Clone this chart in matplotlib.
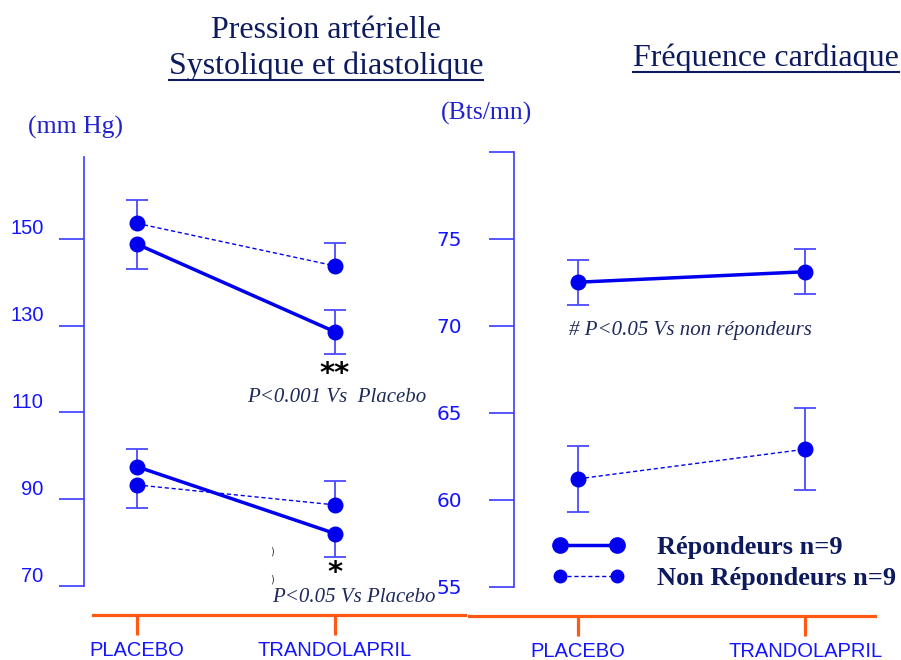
import matplotlib
matplotlib.use("Agg")
import matplotlib.pyplot as plt
import matplotlib.transforms as mtrans
from matplotlib.lines import Line2D
import numpy as np

# ---- data ----
groups = ["PLACEBO", "TRANDOLAPRIL"]

# pression arterielle (mm Hg)
rep_sys = [148.8, 128.6]
rep_sys_lo = [5.7, 5.2]
rep_sys_hi = [0.0, 5.0]
non_sys = [153.6, 143.8]
non_sys_lo = [0.0, 0.0]
non_sys_hi = [5.3, 5.2]

rep_dia = [97.5, 82.1]
rep_dia_lo = [0.0, 5.5]
rep_dia_hi = [4.0, 0.0]
non_dia = [93.3, 88.7]
non_dia_lo = [5.4, 0.0]
non_dia_hi = [0.0, 5.6]

# frequence cardiaque (Bts/mn)
rep_hr = [72.5, 73.1]
rep_hr_err = [1.3, 1.3]
non_hr = [61.2, 62.9]
non_hr_err = [1.9, 2.35]

bp_ticks = [70, 90, 110, 130, 150]
hr_ticks = [55, 60, 65, 70, 75, 80]
hr_ticklabels = ["55", "60", "65", "70", "75", ""]

W, H = 901, 660
NAVY = "#0d1b5e"
BLUE = "#0000ee"
AXBLUE = "#3a3aff"
ERRBLUE = "#4a4aff"
ORANGE = "#ff5a14"
LBLUE = "#1414ff"
SERIF = "Liberation Serif"
SANS = "Liberation Sans"

fig = plt.figure(figsize=(W / 100, H / 100), dpi=100)


def px_axes(l, t, r, b):
    return fig.add_axes([l / W, 1 - b / H, (r - l) / W, (b - t) / H])


def fx(x):
    return x / W


def fy(y):
    return 1 - y / H


def errbars(ax, y, lo, hi):
    x = np.arange(len(y))
    y = np.array(y)
    lo = np.array(lo)
    hi = np.array(hi)
    ax.vlines(x, y - lo, y + hi, color=ERRBLUE, lw=1.3, zorder=2)
    m = hi > 0
    ax.plot(x[m], (y + hi)[m], ls="none", marker="_", ms=16, mew=1.3, color=ERRBLUE, zorder=2)
    m = lo > 0
    ax.plot(x[m], (y - lo)[m], ls="none", marker="_", ms=16, mew=1.3, color=ERRBLUE, zorder=2)


def series(ax, y, solid):
    x = np.arange(len(y))
    if solid:
        ax.plot(x, y, color=BLUE, lw=2.5, marker="o", ms=10.5, zorder=3)
    else:
        ax.plot(x, y, color=BLUE, lw=1.0, ls=(0, (3, 2)), marker="o", ms=10.5, zorder=3)


def style_axes(ax, ticks, ticklabels, pad, up):
    for s in ["top", "right"]:
        ax.spines[s].set_visible(False)
    ax.spines["left"].set_color(AXBLUE)
    ax.spines["left"].set_linewidth(1.2)
    ax.spines["bottom"].set_position(("outward", 21))
    ax.spines["bottom"].set_color(ORANGE)
    ax.spines["bottom"].set_linewidth(2.3)
    ax.set_xticks([0, 1])
    ax.set_xticklabels(groups)
    ax.tick_params(axis="x", length=14.5, width=2.3, color=ORANGE, labelcolor=LBLUE,
                   labelsize=14.5, pad=4)
    ax.set_yticks(ticks)
    ax.set_yticklabels(ticklabels)
    ax.tick_params(axis="y", length=18, width=1.2, color=AXBLUE, labelcolor=LBLUE,
                   labelsize=14.5, pad=pad)
    for lab in ax.get_xticklabels() + ax.get_yticklabels():
        lab.set_family(SANS)
    off = mtrans.ScaledTranslation(0, up / 100, fig.dpi_scale_trans)
    for lab in ax.get_yticklabels():
        lab.set_transform(lab.get_transform() + off)
    ax.patch.set_visible(False)


# ---- left panel: blood pressure ----
ax1 = px_axes(84, 157, 465, 586)
ax1.set_xlim(-0.268, 1.657)
ax1.set_ylim(70, 168.9)
errbars(ax1, rep_sys, rep_sys_lo, rep_sys_hi)
errbars(ax1, non_sys, non_sys_lo, non_sys_hi)
errbars(ax1, rep_dia, rep_dia_lo, rep_dia_hi)
errbars(ax1, non_dia, non_dia_lo, non_dia_hi)
series(ax1, rep_sys, True)
series(ax1, non_sys, False)
series(ax1, rep_dia, True)
series(ax1, non_dia, False)
style_axes(ax1, bp_ticks, [str(t) for t in bp_ticks], 11, 12)
ax1.spines["bottom"].set_bounds(-0.222, 1.657)

ax1.annotate("**", xy=(1, rep_sys[1] - rep_sys_lo[1]), xytext=(0, -4), textcoords="offset points",
             ha="center", va="top", fontsize=21, fontweight="bold", color="black")
ax1.annotate("*", xy=(1, rep_dia[1] - rep_dia_lo[1]), xytext=(0, -1), textcoords="offset points",
             ha="center", va="top", fontsize=21, fontweight="bold", color="black")

# ---- right panel: heart rate ----
ax2 = px_axes(469, 151.7, 875, 586.7)
ax2.set_xlim(-0.480, 1.308)
ax2.set_ylim(55, 80)
errbars(ax2, rep_hr, rep_hr_err, rep_hr_err)
errbars(ax2, non_hr, non_hr_err, non_hr_err)
series(ax2, rep_hr, True)
series(ax2, non_hr, False)
style_axes(ax2, hr_ticks, hr_ticklabels, 19.5, 10)
ax2.spines["left"].set_position(("axes", (514 - 469) / 406))

handles = [
    Line2D([], [], color=BLUE, lw=2.5, marker="o", ms=11),
    Line2D([], [], color=BLUE, lw=1.0, ls=(0, (3, 2)), marker="o", ms=9),
]
fig.legend(handles, ["Répondeurs n=9", "Non Répondeurs n=9"], loc="upper left",
           bbox_to_anchor=(fx(552.5), fy(536)), frameon=False, numpoints=2,
           handlelength=2.75, handletextpad=1.2, labelspacing=0.28, borderpad=0,
           borderaxespad=0, prop={"family": SERIF, "weight": "bold", "size": 19},
           labelcolor=NAVY)

# ---- texts ----
fig.text(fx(326), fy(30), "Pression artérielle", ha="center", va="center",
         family=SERIF, fontsize=23, color=NAVY)
t1 = fig.text(fx(326), fy(66), "Systolique et diastolique", ha="center", va="center",
              family=SERIF, fontsize=23, color=NAVY)
t2 = fig.text(fx(766), fy(58), "Fréquence cardiaque", ha="center", va="center",
              family=SERIF, fontsize=23, color=NAVY)
fig.text(fx(76), fy(127), "(mm Hg)", ha="center", va="center", family=SERIF,
         fontsize=18.5, color="#2222cc")
fig.text(fx(487), fy(113), "(Bts/mn)", ha="center", va="center", family=SERIF,
         fontsize=18.5, color="#2222cc")
fig.text(fx(337), fy(397), "P<0.001 Vs  Placebo", ha="center", va="center", family=SERIF,
         style="italic", fontsize=15, color="#1f2a5a")
fig.text(fx(354), fy(597), "P<0.05 Vs Placebo", ha="center", va="center", family=SERIF,
         style="italic", fontsize=15, color="#1f2a5a")
fig.text(fx(690), fy(331), "# P<0.05 Vs non répondeurs", ha="center", va="center",
         family=SERIF, style="italic", fontsize=15, color="#1f2a5a")
fig.text(fx(272), fy(552), ")", ha="center", va="center", fontsize=7, color="#333333")
fig.text(fx(272), fy(580), ")", ha="center", va="center", fontsize=7, color="#333333")

# underline the two section titles
fig.canvas.draw()
r = fig.canvas.get_renderer()
for t, yl in [(t1, 80), (t2, 72)]:
    bb = t.get_window_extent(r)
    fig.add_artist(Line2D([bb.x0 / W, bb.x1 / W], [fy(yl), fy(yl)], color=NAVY, lw=1.5,
                          transform=fig.transFigure))

fig.savefig("out.png", dpi=100)
